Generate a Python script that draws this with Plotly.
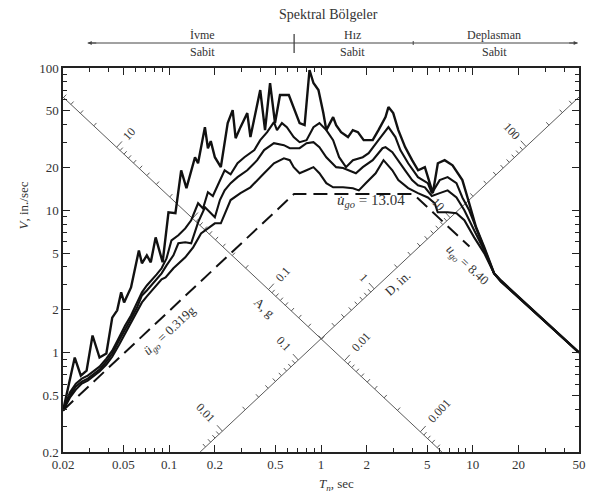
import math
import plotly.graph_objects as go

# ---------------- data ----------------
# Pseudo-velocity response spectra, damping 0, 2, 5, 10 %
T_z0 = [0.02, 0.0239, 0.0262, 0.0286, 0.0313, 0.0348, 0.0386, 0.0422, 0.0455, 0.0483, 0.0505, 0.0561,
        0.0632, 0.0662, 0.0713, 0.0757, 0.0815, 0.0866, 0.0906, 0.099, 0.110, 0.120, 0.130, 0.148, 0.155,
        0.172, 0.180, 0.188, 0.200, 0.219, 0.243, 0.262, 0.274, 0.295, 0.327, 0.343, 0.398, 0.428, 0.462,
        0.498, 0.537, 0.614, 0.661, 0.723, 0.780, 0.840, 0.892, 0.962, 1.036, 1.084, 1.202, 1.258, 1.356,
        1.506, 1.62, 1.75, 1.91, 2.19, 2.39, 2.66, 2.78, 2.99, 3.23, 3.58, 3.98, 4.36, 4.83, 5.21, 5.45,
        5.88, 6.52, 7.35, 8.53, 9.46, 10.5, 11.9, 13.8, 15.3, 50]
V_z0 = [0.39, 0.922, 0.689, 0.747, 1.318, 0.922, 0.984, 1.76, 1.98, 2.65, 2.25, 2.87,
        5.22, 4.24, 4.82, 4.31, 6.45, 5.06, 4.31, 9.68, 9.53, 19.1, 14.3, 23.6, 21.4,
        38.4, 27.3, 30.6, 23.6, 20.1, 41.0, 50.6, 32.1, 38.4, 48.2, 32.7, 70.0, 36.6, 78.4,
        41.0, 64.6, 64.6, 53.1, 41.0, 39.7, 96.8, 78.4, 70.0, 48.2, 36.6, 45.2, 39.7, 35.4,
        32.7, 36.6, 35.4, 31.1, 31.1, 36.6, 45.2, 53.1, 48.2, 36.6, 27.8, 22.5, 19.1, 20.1, 15.5, 13.2,
        21.4, 22.5, 20.7, 16.3, 11.2, 7.59, 5.49, 3.60, 3.21, 1.0]

T_z2 = [0.02, 0.0222, 0.0243, 0.0266, 0.0291, 0.0323, 0.0348, 0.0386, 0.0422, 0.0469, 0.0513, 0.0561,
        0.0614, 0.0662, 0.0713, 0.0768, 0.0828, 0.0892, 0.0961, 0.1036, 0.115, 0.1277, 0.1397, 0.1551,
        0.1671, 0.180, 0.194, 0.209, 0.232, 0.254, 0.282, 0.313, 0.364, 0.398, 0.442, 0.490, 0.513, 0.553,
        0.596, 0.661, 0.723, 0.803, 0.892, 0.976, 1.084, 1.202, 1.316, 1.461, 1.622, 1.884, 2.06, 2.39,
        2.66, 2.78, 3.09, 3.33, 3.75, 4.35, 5.05, 5.37, 6.05, 6.82, 7.80, 8.53, 9.46, 10.7, 11.9, 13.8,
        15.3, 50]
V_z2 = [0.39, 0.523, 0.605, 0.656, 0.689, 0.747, 0.796, 0.907, 1.03, 1.28, 1.55, 1.82,
        2.21, 2.65, 2.96, 3.21, 3.54, 3.91, 4.59, 6.15, 6.67, 7.46, 8.51, 11.2,
        10.3, 13.4, 12.6, 15.0, 19.1, 17.9, 21.4, 23.6, 26.5, 31.1, 35.4, 41.7, 36.6, 41.0,
        38.4, 32.7, 30.1, 31.1, 38.4, 41.0, 36.6, 31.1, 23.6, 20.1, 22.5, 23.6, 25.2, 31.1,
        36.6, 38.4, 32.7, 26.5, 21.4, 17.1, 15.5, 13.2, 16.3, 17.1, 15.5, 12.3, 10.0, 7.23, 5.49, 3.60,
        3.19, 1.0]

T_z5 = [0.02, 0.0222, 0.0243, 0.0266, 0.0291, 0.0323, 0.0348, 0.0386, 0.0422, 0.0469, 0.0513, 0.0561,
        0.0614, 0.0662, 0.0713, 0.0768, 0.0828, 0.0892, 0.0961, 0.1067, 0.115, 0.1277, 0.1397, 0.1551,
        0.1722, 0.1856, 0.2, 0.216, 0.232, 0.254, 0.282, 0.327, 0.380, 0.422, 0.490, 0.570, 0.623, 0.723,
        0.803, 0.892, 0.976, 1.084, 1.258, 1.397, 1.528, 1.697, 1.884, 2.19, 2.54, 2.66, 2.95, 3.23, 3.58,
        3.98, 4.35, 4.83, 5.37, 6.05, 6.82, 7.80, 8.79, 10.2, 11.9, 13.8, 15.3, 50]
V_z5 = [0.39, 0.498, 0.577, 0.625, 0.656, 0.711, 0.759, 0.865, 0.984, 1.22, 1.47, 1.73,
        2.07, 2.52, 2.73, 3.01, 3.32, 3.60, 4.10, 4.82, 5.86, 5.96, 5.86, 8.23,
        10.5, 9.68, 8.93, 11.8, 13.8, 15.5, 17.1, 19.1, 22.5, 26.5, 29.6, 28.7, 27.3, 27.3,
        29.6, 30.1, 27.8, 23.6, 20.1, 19.8, 19.1, 18.2, 20.1, 22.5, 27.3, 27.8, 25.6, 22.5, 19.1,
        16.3, 15.0, 14.5, 12.6, 13.2, 13.8, 12.3, 10.0, 7.23, 5.22, 3.60, 3.17, 1.0]

T_z10 = [0.02, 0.0222, 0.0243, 0.0266, 0.0291, 0.0323, 0.0348, 0.0386, 0.0422, 0.0469, 0.0513, 0.0561,
         0.0614, 0.0662, 0.0713, 0.0768, 0.0828, 0.0892, 0.0947, 0.1067, 0.1277, 0.1439, 0.1622, 0.180,
         0.2, 0.219, 0.254, 0.295, 0.343, 0.422, 0.490, 0.570, 0.623, 0.661, 0.723, 0.803, 0.892, 0.976,
         1.084, 1.202, 1.397, 1.622, 1.775, 1.97, 2.29, 2.58, 2.95, 3.23, 3.75, 4.35, 5.05, 5.61, 5.87,
         6.82, 7.80, 8.79, 10.2, 11.9, 13.8, 15.3, 50]
V_z10 = [0.39, 0.482, 0.549, 0.605, 0.635, 0.689, 0.735, 0.823, 0.937, 1.14, 1.36, 1.60,
         1.91, 2.25, 2.48, 2.73, 3.01, 3.27, 3.37, 3.91, 4.67, 5.49, 6.88, 7.46,
         8.10, 8.10, 11.8, 13.2, 14.5, 18.2, 21.4, 23.2, 22.5, 20.1, 18.2, 19.1, 20.1, 18.2,
         15.5, 14.5, 14.5, 14.3, 13.8, 15.5, 18.2, 22.5, 19.1, 16.3, 14.3, 13.2, 12.3, 11.2, 9.68,
         9.68, 9.53, 8.51, 6.45, 4.98, 3.60, 3.15, 1.0]

# ground-motion peaks
ugo_acc_g = 0.319     # g
ugo_vel = 13.04       # in/sec
ugo_disp = 8.40       # in
g_in = 386.1          # in/sec^2
T_dash_end = 9.5

# axes
x_ticks = [0.02, 0.05, 0.1, 0.2, 0.5, 1, 2, 5, 10, 20, 50]
x_ticktext = ["0.02", "0.05", "0.1", "0.2", "0.5", "1", "2", "5", "10", "20", "50"]
y_ticks = [0.2, 0.5, 1, 2, 5, 10, 20, 50, 100]
y_ticktext = ["0.2", "0.5", "1", "2", "5", "10", "20", "50", "100"]

# diagonal (tripartite) axes: A axis on V*T = C, D axis on V/T = C
C_diag = 1.25
A_labels = [10, 0.1, 0.01, 0.001]
D_labels = [0.01, 0.1, 1, 10, 100]

# spectral regions header
region_names = ["İvme", "Hız", "Deplasman"]
region_sub = "Sabit"
region_label_T = [0.167, 1.62, 13.8]
header_T = [0.0291, 49]
header_title = "Spektral Bölgeler"

# ---------------- geometry ----------------
W, H = 589, 495
ML, MR, MT, MB = 63, 3, 68, 43
PW, PH = W - ML - MR, H - MT - MB
XR = [math.log10(0.02), math.log10(50)]
YR = [math.log10(0.2), math.log10(100)]
KX = PW / (XR[1] - XR[0])
KY = PH / (YR[1] - YR[0])
FONT = "Liberation Serif"
TXT = "#333333"
AXC = "#5a5a5a"


def shift(T, V, dx, dy):
    """move a data point by dx px right and dy px up"""
    return T * 10 ** (dx / KX), V * 10 ** (dy / KY)


def xp(T):
    return (math.log10(T) - XR[0]) / (XR[1] - XR[0])


def py(px_y):
    return (H - MB - px_y) / PH


fig = go.Figure()
annotations = []

# ---- A axis (down-right diagonal) ----
nA = math.hypot(KX, KY)
uA = (KY / nA, KX / nA)          # up-right perpendicular (px right, px up)
TA0, TA1 = 0.02, C_diag / 0.2
fig.add_trace(go.Scatter(x=[TA0, TA1], y=[C_diag / TA0, C_diag / TA1], mode="lines",
                         line=dict(color=AXC, width=1), hoverinfo="skip"))
tx, ty = [], []
for k in range(-4, 2):
    for m in range(1, 10):
        A = m * 10 ** k
        T = math.sqrt(2 * math.pi * C_diag / (g_in * A))
        if T < TA0 or T > TA1:
            continue
        V = C_diag / T
        L = 8 if m == 1 else 4
        T2, V2 = shift(T, V, L * uA[0], L * uA[1])
        tx += [T, T2, None]
        ty += [V, V2, None]
fig.add_trace(go.Scatter(x=tx, y=ty, mode="lines", line=dict(color=AXC, width=1), hoverinfo="skip"))
angA = -math.degrees(math.atan2(KX, KY))
for A in A_labels:
    T = math.sqrt(2 * math.pi * C_diag / (g_in * A))
    V = C_diag / T
    s = ("%g" % A)
    off = 12 + 3.2 * len(s)
    T2, V2 = shift(T, V, off * uA[0], off * uA[1])
    annotations.append(dict(x=math.log10(T2), y=math.log10(V2), xref="x", yref="y", text=s,
                            showarrow=False, textangle=angA, xanchor="center", yanchor="middle",
                            font=dict(family=FONT, size=12, color=TXT)))

# ---- D axis (up-right diagonal) ----
uD = (-KY / nA, KX / nA)         # up-left perpendicular
TD0, TD1 = 0.2 / C_diag, 50
fig.add_trace(go.Scatter(x=[TD0, TD1], y=[C_diag * TD0, C_diag * TD1], mode="lines",
                         line=dict(color=AXC, width=1), hoverinfo="skip"))
tx, ty = [], []
for k in range(-3, 3):
    for m in range(1, 10):
        D = m * 10 ** k
        T = math.sqrt(2 * math.pi * D / C_diag)
        if T < TD0 or T > TD1:
            continue
        V = C_diag * T
        L = 8 if m == 1 else 4
        T2, V2 = shift(T, V, L * uD[0], L * uD[1])
        tx += [T, T2, None]
        ty += [V, V2, None]
fig.add_trace(go.Scatter(x=tx, y=ty, mode="lines", line=dict(color=AXC, width=1), hoverinfo="skip"))
angD = math.degrees(math.atan2(KX, KY))
for D in D_labels:
    T = math.sqrt(2 * math.pi * D / C_diag)
    V = C_diag * T
    s = ("%g" % D)
    off = 12 + 3.2 * len(s)
    T2, V2 = shift(T, V, off * uD[0], off * uD[1])
    annotations.append(dict(x=math.log10(T2), y=math.log10(V2), xref="x", yref="y", text=s,
                            showarrow=False, textangle=angD, xanchor="center", yanchor="middle",
                            font=dict(family=FONT, size=12, color=TXT)))

angLine = -math.degrees(math.atan2(KY, KX))   # along slope +1 in log-log
annotations.append(dict(x=math.log10(3.18), y=math.log10(3.06), xref="x", yref="y", text="D, in.",
                        showarrow=False, textangle=angLine, xanchor="center", yanchor="middle",
                        font=dict(family=FONT, size=13, color=TXT)))
annotations.append(dict(x=math.log10(0.422), y=math.log10(2.07), xref="x", yref="y", text="A, g",
                        showarrow=False, textangle=-angLine, xanchor="center", yanchor="middle",
                        font=dict(family=FONT, size=13, color=TXT)))

# ---- dashed ground-motion bounds ----
A_in = ugo_acc_g * g_in
T_a = 2 * math.pi * ugo_vel / A_in
T_d = 2 * math.pi * ugo_disp / ugo_vel
Td = [0.02, T_a, T_d, T_dash_end]
Vd = [A_in * 0.02 / (2 * math.pi), ugo_vel, ugo_vel, 2 * math.pi * ugo_disp / T_dash_end]
fig.add_trace(go.Scatter(x=Td, y=Vd, mode="lines", line=dict(color="#111", width=2, dash="14px,7px"),
                         hoverinfo="skip"))

# ---- spectra ----
for T, V, w in [(T_z10, V_z10, 2.1), (T_z5, V_z5, 2.1), (T_z2, V_z2, 2.1), (T_z0, V_z0, 2.4)]:
    fig.add_trace(go.Scatter(x=T, y=V, mode="lines", line=dict(color="#111111", width=w),
                             hoverinfo="skip"))

# ---- peak labels ----
annotations.append(dict(x=math.log10(0.102), y=math.log10(1.43), xref="x", yref="y",
                        text="<i>ü</i><sub><i>go</i></sub> = 0.319g", showarrow=False,
                        textangle=angLine, xanchor="center", yanchor="middle",
                        font=dict(family=FONT, size=13, color=TXT)))
annotations.append(dict(x=math.log10(2.12), y=math.log10(11.6), xref="x", yref="y",
                        text="<i>u\u0307</i><sub><i>go</i></sub> = 13.04", showarrow=False,
                        xanchor="center", yanchor="middle",
                        font=dict(family=FONT, size=15, color=TXT)))
annotations.append(dict(x=math.log10(9.19), y=math.log10(4.10), xref="x", yref="y",
                        text="<i>u</i><sub><i>go</i></sub> = 8.40", showarrow=False,
                        textangle=-angLine, xanchor="center", yanchor="middle",
                        font=dict(family=FONT, size=13, color=TXT)))

# ---- axis titles ----
annotations.append(dict(x=(340 - ML) / PW, y=py(484), xref="paper", yref="paper",
                        text="<i>T<sub>n</sub></i>, sec", showarrow=False,
                        xanchor="center", yanchor="middle",
                        font=dict(family=FONT, size=13, color=TXT)))
annotations.append(dict(x=(22 - ML) / PW, y=py(206), xref="paper", yref="paper",
                        text="<i>V</i>, in./sec", showarrow=False, textangle=-90,
                        xanchor="center", yanchor="middle",
                        font=dict(family=FONT, size=13, color=TXT)))

# ---- spectral regions header ----
shapes = []
xl, xr_ = xp(header_T[0]), xp(header_T[1])
shapes.append(dict(type="line", xref="paper", yref="paper", x0=xl, x1=xr_, y0=py(43), y1=py(43),
                   line=dict(color="#444", width=1)))
shapes.append(dict(type="line", xref="paper", yref="paper", x0=xp(T_a), x1=xp(T_a), y0=py(34), y1=py(53),
                   line=dict(color="#444", width=1.3)))
shapes.append(dict(type="line", xref="paper", yref="paper", x0=xp(T_d), x1=xp(T_d), y0=py(41), y1=py(45),
                   line=dict(color="#444", width=1)))
annotations.append(dict(x=xl, y=py(43), xref="paper", yref="paper", ax=10, ay=0, text="",
                        showarrow=True, arrowhead=2, arrowsize=0.8, arrowwidth=1, arrowcolor="#444"))
annotations.append(dict(x=xr_, y=py(43), xref="paper", yref="paper", ax=-10, ay=0, text="",
                        showarrow=True, arrowhead=2, arrowsize=0.8, arrowwidth=1, arrowcolor="#444"))
for Tc, top in zip(region_label_T, region_names):
    annotations.append(dict(x=xp(Tc), y=py(35), xref="paper", yref="paper", text=top, showarrow=False,
                            xanchor="center", yanchor="middle",
                            font=dict(family=FONT, size=12, color=TXT)))
    annotations.append(dict(x=xp(Tc), y=py(52), xref="paper", yref="paper", text=region_sub,
                            showarrow=False, xanchor="center", yanchor="middle",
                            font=dict(family=FONT, size=12, color=TXT)))
annotations.append(dict(x=(332 - ML) / PW, y=py(14), xref="paper", yref="paper", text=header_title,
                        showarrow=False, xanchor="center", yanchor="middle",
                        font=dict(family=FONT, size=14, color=TXT)))

# minor ticks
x_minor = [m * 10 ** k for k in range(-2, 2) for m in range(1, 10)
           if 0.02 <= m * 10 ** k <= 50 and not any(abs(m * 10 ** k - t) < 1e-9 for t in x_ticks)]
y_minor = [m * 10 ** k for k in range(-1, 3) for m in range(1, 10)
           if 0.2 <= m * 10 ** k <= 100 and not any(abs(m * 10 ** k - t) < 1e-9 for t in y_ticks)]

axis_common = dict(type="log", showgrid=False, zeroline=False, showline=True, linecolor="#222",
                   linewidth=1.5, mirror="ticks", ticks="inside", ticklen=7, tickwidth=1,
                   tickcolor="#222", ticklabeloverflow="allow",
                   tickfont=dict(family=FONT, size=13, color=TXT))
fig.update_layout(
    width=W, height=H, margin=dict(l=ML, r=MR, t=MT, b=MB),
    plot_bgcolor="white", paper_bgcolor="white", showlegend=False,
    xaxis=dict(range=XR, tickvals=x_ticks, ticktext=x_ticktext,
               minor=dict(tickvals=x_minor, ticks="inside", ticklen=4, tickcolor="#222", showgrid=False),
               **axis_common),
    yaxis=dict(range=YR, tickvals=y_ticks, ticktext=y_ticktext,
               minor=dict(tickvals=y_minor, ticks="inside", ticklen=4, tickcolor="#222", showgrid=False),
               **axis_common),
    annotations=annotations, shapes=shapes,
)

fig.write_html("out.html")
